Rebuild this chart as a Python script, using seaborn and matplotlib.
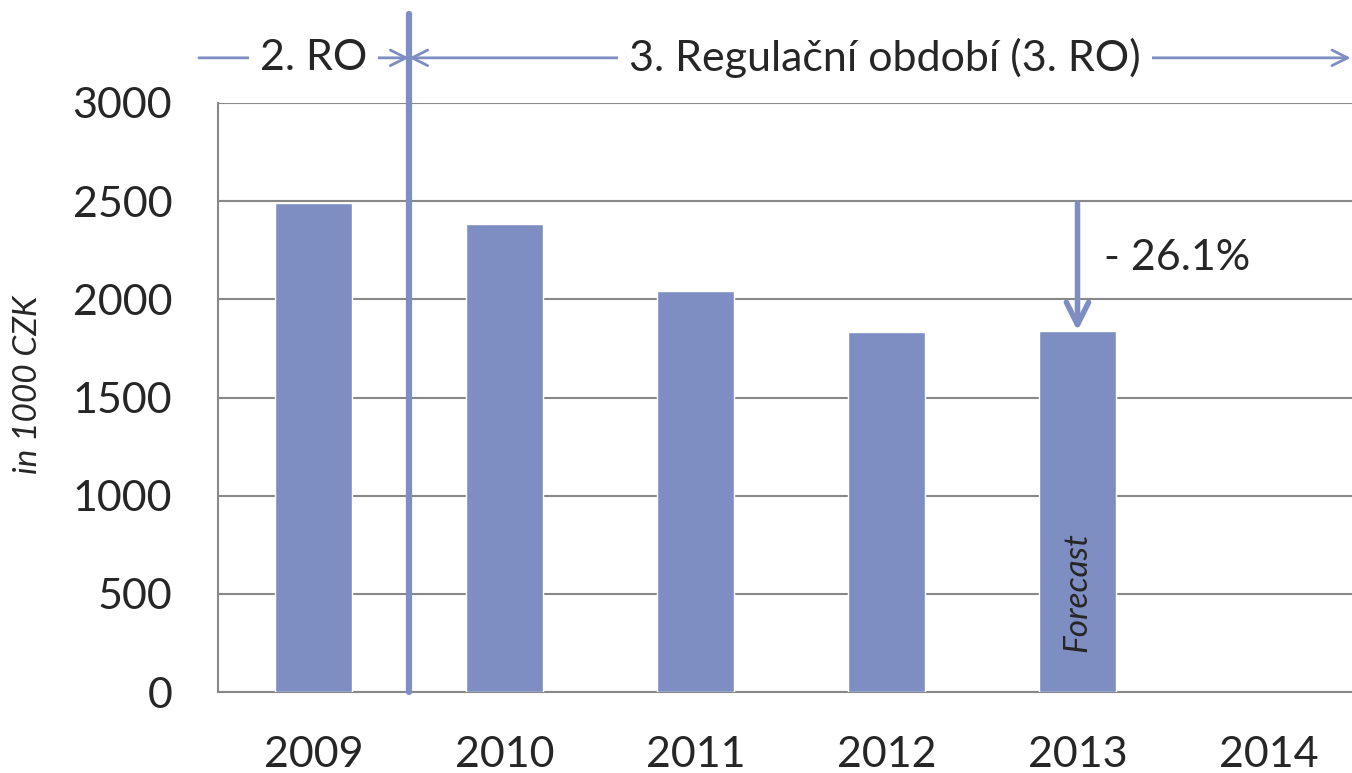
import pandas as pd
import matplotlib.pyplot as plt
import seaborn as sns

years = ["2009", "2010", "2011", "2012", "2013", "2014"]
bar_years = ["2009", "2010", "2011", "2012", "2013"]
costs = [2490, 2385, 2040, 1835, 1840]
yticks = [0, 500, 1000, 1500, 2000, 2500, 3000]

c_bar = "#7F8EC2"
c_grid = "#888888"

sns.set_style("white")
plt.rcParams["font.family"] = ["Lato", "DejaVu Sans"]

df = pd.DataFrame({"Year": bar_years, "Cost": costs})

fig = plt.figure(figsize=(13.52, 7.73), dpi=100)
ax = fig.add_axes([218 / 1352, 81 / 773, 1146 / 1352, 589 / 773])

sns.barplot(data=df, x="Year", y="Cost", order=years, color=c_bar, width=0.4,
            saturation=1, ax=ax, zorder=3)

ax.set_xlim(-0.5, 5.5)
ax.set_ylim(0, 3000)
ax.set_yticks(yticks)
ax.yaxis.grid(True, color=c_grid, lw=1.5)
ax.set_axisbelow(True)
for s in ["top", "right"]:
    ax.spines[s].set_visible(False)
for s in ["left", "bottom"]:
    ax.spines[s].set_color(c_grid)
    ax.spines[s].set_linewidth(1.5)

ax.set_xticks(range(len(years)))
ax.set_xticks([i - 0.5 for i in range(len(years) + 1)], minor=True)
ax.tick_params(axis="x", which="major", length=0, pad=32, labelsize=31)
ax.tick_params(axis="x", which="minor", length=11, width=1.5, color=c_grid)
ax.tick_params(axis="y", length=11, width=1.5, color=c_grid, pad=22, labelsize=31)
ax.set_xlabel("")
ax.set_ylabel("in 1000 CZK", fontsize=24, style="italic")
ax.yaxis.set_label_coords(-0.153, 0.521)

# separator between regulatory periods
ax.axvline(0.5, ymin=0, ymax=1.151, color=c_bar, lw=4.5, clip_on=False, zorder=4)

arrow_y = 3230
ax.annotate("", xy=(0.5, arrow_y), xytext=(-0.6, arrow_y), annotation_clip=False,
            arrowprops=dict(arrowstyle="->", color=c_bar, lw=2, shrinkA=0, shrinkB=0,
                            mutation_scale=28))
ax.annotate("", xy=(0.5, arrow_y), xytext=(5.43, arrow_y), annotation_clip=False,
            arrowprops=dict(arrowstyle="<->", color=c_bar, lw=2, shrinkA=0, shrinkB=0,
                            mutation_scale=28))
ax.text(-0.0, arrow_y, "2. RO", fontsize=31, ha="center", va="center", zorder=6,
        bbox=dict(facecolor="white", edgecolor="none", pad=8), clip_on=False)
ax.text(2.99, arrow_y, "3. Regulační období (3. RO)", fontsize=31, ha="center",
        va="center", zorder=6, bbox=dict(facecolor="white", edgecolor="none", pad=8),
        clip_on=False)

# decrease arrow
ax.annotate("", xy=(4.0, costs[-1]), xytext=(4.0, costs[0]),
            arrowprops=dict(arrowstyle="->", color=c_bar, lw=4, shrinkA=0, shrinkB=0,
                            mutation_scale=40), zorder=5)
ax.text(4.14, 2211, "- 26.1%", fontsize=31, ha="left", va="center")
ax.text(4.0, 509, "Forecast", fontsize=24, style="italic", rotation=90,
        ha="center", va="center", zorder=5)

fig.savefig("out.png", dpi=100)
